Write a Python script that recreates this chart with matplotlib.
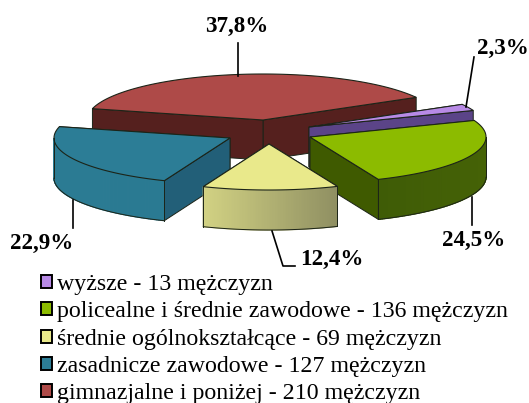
#Imports
import numpy as np
import matplotlib
matplotlib.use("Agg")
import matplotlib.pyplot as plt
from matplotlib.patches import Polygon, Patch

# Data
categories = ["wyższe", "policealne i średnie zawodowe", "średnie ogólnokształcące",
              "zasadnicze zawodowe", "gimnazjalne i poniżej"]
men = [13, 136, 69, 127, 210]

# Styles, same order as the data
top_colors = ["#b88ae6", "#8cbb00", "#e9e98b", "#2c7d96", "#ae4a48"]
side_colors = ["#5b4488", "#3f5a00", "#8b8b5c", "#225f78", "#55201e"]
wall_left = ["#5b4488", "#3f5c06", "#d2d283", "#2b7b93", "#55201e"]
wall_right = ["#5b4488", "#456206", "#8f8f62", "#2a7a92", "#55201e"]
apex_x = [309, 310, 269, 230, 263]
apex_y = [127, 137, 144, 138, 120]
draw_order = [4, 0, 1, 3, 2]

# Layout of the pie in pixels
rx = 176
ry = 46
depth = 40
start_angle = 29.5
edge = "#1c2418"

shares = np.array(men) / sum(men)
ends = start_angle - np.cumsum(shares) * 360
starts = ends + shares * 360


def point(cx, cy, angle):
    a = np.radians(angle)
    return cx + rx * np.cos(a), cy - ry * np.sin(a)


def mix(c1, c2, t):
    c1 = np.array(matplotlib.colors.to_rgb(c1))
    c2 = np.array(matplotlib.colors.to_rgb(c2))
    return c1 + (c2 - c1) * t


fig = plt.figure(figsize=(5.29, 4.03), dpi=100)
ax = fig.add_axes([0, 0, 1, 1])
ax.set_xlim(0, 529)
ax.set_ylim(403, 0)
ax.axis("off")

for i in draw_order:
    cx, cy = apex_x[i], apex_y[i]
    ang = np.linspace(starts[i], ends[i], 120)
    xs, ys = point(cx, cy, ang)

    # cut faces, the one further back first
    for k in sorted([0, -1], key=lambda n: ys[n]):
        quad = [(cx, cy), (xs[k], ys[k]), (xs[k], ys[k] + depth), (cx, cy + depth)]
        ax.add_patch(Polygon(quad, closed=True, fc=side_colors[i], ec=edge, lw=0.7))

    # outer wall, only the part facing the viewer
    front = np.sin(np.radians(ang)) <= 0
    if front.sum() > 1:
        fx, fy = xs[front], ys[front]
        xmin, xmax = fx.min(), fx.max()
        for j in range(len(fx) - 1):
            t = (0.5 * (fx[j] + fx[j + 1]) - xmin) / (xmax - xmin)
            strip = [(fx[j], fy[j]), (fx[j + 1], fy[j + 1]),
                     (fx[j + 1], fy[j + 1] + depth), (fx[j], fy[j] + depth)]
            c = mix(wall_left[i], wall_right[i], t)
            ax.add_patch(Polygon(strip, closed=True, fc=c, ec=c, lw=0.9))
        ax.plot(fx, fy + depth, color=edge, lw=0.7)
        ax.plot([fx[0], fx[0]], [fy[0], fy[0] + depth], color=edge, lw=0.7)
        ax.plot([fx[-1], fx[-1]], [fy[-1], fy[-1] + depth], color=edge, lw=0.7)

    # top
    top = np.column_stack([np.r_[cx, xs], np.r_[cy, ys]])
    ax.add_patch(Polygon(top, closed=True, fc=top_colors[i], ec=edge, lw=0.8))

# Percent labels
label_font = dict(family="Liberation Serif", fontweight="bold", fontsize=16.6,
                  color="black", va="center")
labels = [("%.1f%%" % (s * 100)).replace(".", ",") for s in shares]
ax.text(477, 48, labels[0], ha="left", **label_font)
ax.text(474, 240, labels[1], ha="center", **label_font)
ax.text(300, 259, labels[2], ha="left", **label_font)
ax.text(42, 243, labels[3], ha="center", **label_font)
ax.text(237, 26, labels[4], ha="center", **label_font)

# Leader lines
ax.plot([238, 238], [43, 76], color="black", lw=1.2)
ax.plot([474, 466], [57, 107], color="black", lw=1.2)
ax.plot([472, 472], [197, 225], color="black", lw=1.2)
ax.plot([73, 73], [200, 228], color="black", lw=1.2)
ax.plot([272, 283, 295], [231, 266, 266], color="black", lw=1.2)

# Legend
handles = [Patch(fc=c, ec="black", lw=1.4) for c in top_colors]
texts = ["%s - %d mężczyzn" % (c, n) for c, n in zip(categories, men)]
ax.legend(handles, texts, loc="upper left", bbox_to_anchor=(41 / 529, 1 - 274 / 403),
          bbox_transform=ax.transAxes, frameon=False, borderpad=0, borderaxespad=0,
          handlelength=0.46, handleheight=0.46, handletextpad=0.21, labelspacing=0.263,
          prop=dict(family="Liberation Serif", size=17.2))

fig.savefig("out.png", dpi=100)
